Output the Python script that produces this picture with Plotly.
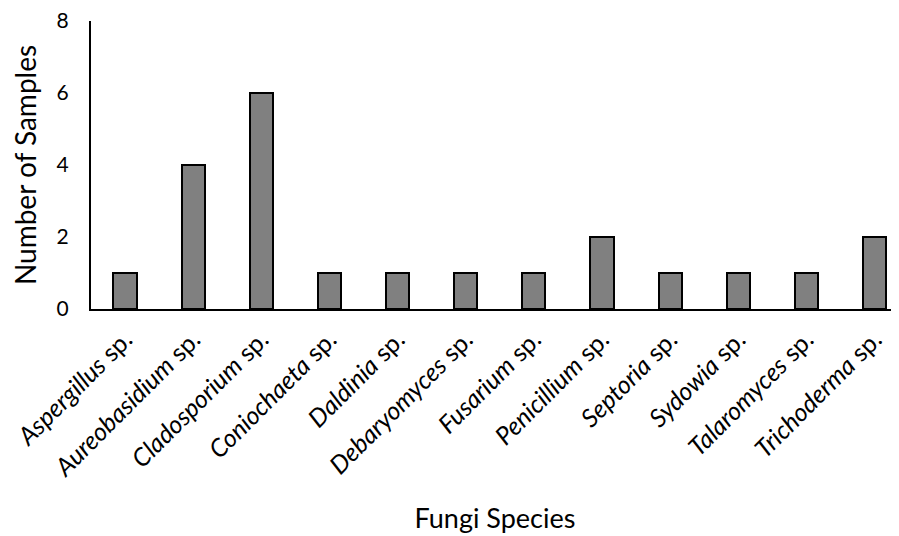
import plotly.graph_objects as go

genera = ["Aspergillus", "Aureobasidium", "Cladosporium", "Coniochaeta", "Daldinia",
          "Debaryomyces", "Fusarium", "Penicillium", "Septoria", "Sydowia",
          "Talaromyces", "Trichoderma"]
samples = [1, 4, 6, 1, 1, 1, 1, 2, 1, 1, 1, 2]
y_ticks = [0, 2, 4, 6, 8]

tick_text = [f"<i>{g}</i> sp." for g in genera]
FONT = "Lato"

fig = go.Figure(go.Bar(
    x=list(range(len(genera))), y=samples,
    width=0.34,
    marker=dict(color="#808080", line=dict(color="black", width=2)),
))
fig.update_layout(
    width=891, height=528,
    margin=dict(l=83, r=0, t=13, b=227, autoexpand=False),
    plot_bgcolor="white", paper_bgcolor="white",
    font=dict(family=FONT, color="black", size=22),
    showlegend=False,
    bargap=0,
)
fig.update_xaxes(
    tickmode="array", tickvals=list(range(len(genera))), ticktext=tick_text,
    tickangle=-45, range=[-0.5, 11.36],
    showline=True, linecolor="black", linewidth=2, ticks="",
    showgrid=False, zeroline=False, automargin=False,
    ticklabelstandoff=4,
    tickfont=dict(size=25),
    title=dict(text="Fungi Species", font=dict(size=27), standoff=28),
)
fig.update_yaxes(
    range=[0, 8], tickvals=y_ticks,
    showline=True, linecolor="black", linewidth=2, ticks="",
    showgrid=False, zeroline=False, automargin=False,
    ticklabelstandoff=16, ticklabeloverflow="allow",
    tickfont=dict(size=21),
    title=dict(text="Number of Samples", font=dict(size=28), standoff=14),
)
fig.write_html("out.html")
